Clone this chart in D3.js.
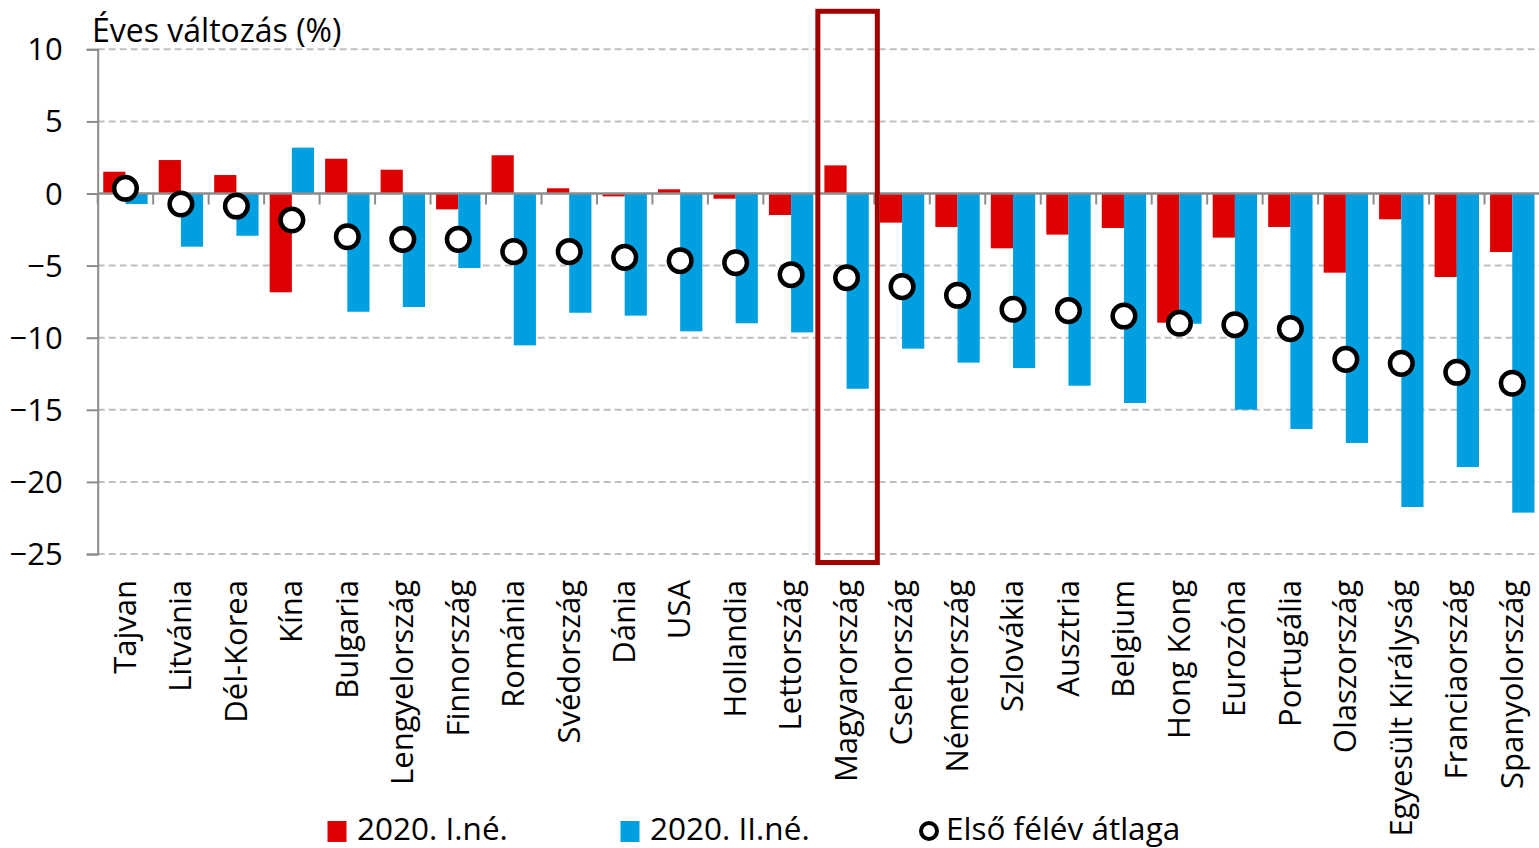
<!DOCTYPE html>
<html>
<head>
<meta charset="utf-8">
<script src="https://cdn.jsdelivr.net/npm/d3@7"></script>
<style>
  html, body { margin: 0; padding: 0; background: #fff; }
  svg { display: block; }
  text { font-family: "Open Sans", sans-serif; fill: #000; }
</style>
</head>
<body>
<svg id="chart" width="1539" height="848"></svg>
<script>
const categories = ["Tajvan","Litvánia","Dél-Korea","Kína","Bulgaria","Lengyelország","Finnország","Románia","Svédország","Dánia","USA","Hollandia","Lettország","Magyarország","Csehország","Németország","Szlovákia","Ausztria","Belgium","Hong Kong","Eurozóna","Portugália","Olaszország","Egyesült Királyság","Franciaország","Spanyolország"];
const q1 = [1.51, 2.32, 1.28, -6.85, 2.41, 1.65, -1.10, 2.65, 0.36, -0.20, 0.29, -0.36, -1.49, 1.95, -2.02, -2.32, -3.80, -2.85, -2.39, -8.96, -3.06, -2.32, -5.49, -1.79, -5.79, -4.06];
const q2 = [-0.73, -3.69, -2.93, 3.18, -8.20, -7.87, -5.17, -10.53, -8.27, -8.47, -9.56, -9.00, -9.63, -13.54, -10.76, -11.73, -12.10, -13.33, -14.53, -9.03, -14.99, -16.33, -17.30, -21.74, -18.97, -22.13];
const avg = [0.36, -0.73, -0.87, -1.84, -3.00, -3.18, -3.18, -4.03, -4.03, -4.43, -4.66, -4.80, -5.63, -5.84, -6.46, -7.06, -8.03, -8.12, -8.50, -9.00, -9.10, -9.37, -11.50, -11.78, -12.40, -13.16];
const yTicks = [10, 5, 0, -5, -10, -15, -20, -25];
const seriesNames = ["2020. I.né.", "2020. II.né.", "Első félév átlaga"];
const highlight = "Magyarország";
const title = "Éves változás (%)";

const colors = { q1: "#dc0000", q2: "#009fe0", box: "#a10000", axis: "#8c8c8c", grid: "#bfbfbf" };

const svg = d3.select("#chart");
const pLeft = 97.7, pRight = 1540, pTop = 49.3, pBottom = 554;

const x = d3.scaleBand().domain(categories).range([pLeft, pRight]).paddingInner(0.2).paddingOuter(0.1);
const xs = d3.scaleBand().domain(["q1","q2"]).range([0, x.bandwidth()]);
const y = d3.scaleLinear().domain([-25, 10]).range([pBottom, pTop]);
const step = x.step();

// gridlines
svg.append("g").selectAll("line").data(yTicks.filter(d => d !== 0)).join("line")
  .attr("x1", pLeft).attr("x2", pRight).attr("y1", d => y(d)).attr("y2", d => y(d))
  .attr("stroke", colors.grid).attr("stroke-width", 2).attr("stroke-dasharray", "7,4");

// bars
const rows = categories.map((c, i) => ({ c, q1: q1[i], q2: q2[i], avg: avg[i] }));
const gb = svg.append("g");
["q1","q2"].forEach(k => {
  gb.selectAll("rect." + k).data(rows).join("rect").attr("class", k)
    .attr("x", d => x(d.c) + xs(k))
    .attr("width", xs.bandwidth())
    .attr("y", d => Math.min(y(0), y(d[k])))
    .attr("height", d => Math.abs(y(d[k]) - y(0)))
    .attr("fill", colors[k]);
});

// y axis
const yAxis = d3.axisLeft(y).tickValues(yTicks).tickSize(11).tickPadding(24);
const gy = svg.append("g").attr("transform", `translate(${pLeft},0)`).call(yAxis);
gy.select(".domain").attr("stroke", colors.axis).attr("stroke-width", 2);
gy.selectAll(".tick line").attr("stroke", colors.axis).attr("stroke-width", 2);
gy.selectAll(".tick text").attr("font-size", 31).attr("font-family", "Open Sans").attr("fill", "#000")
  .attr("dy", "0.34em").attr("x", -35);

// x axis at zero: line and boundary ticks
const gx = svg.append("g");
gx.append("line").attr("x1", pLeft).attr("x2", pRight).attr("y1", y(0)).attr("y2", y(0))
  .attr("stroke", colors.axis).attr("stroke-width", 2.5);
const bounds = d3.range(categories.length + 1).map(i => pLeft + i * step);
gx.selectAll("line.tk").data(bounds).join("line").attr("class", "tk")
  .attr("x1", d => d).attr("x2", d => d).attr("y1", y(0)).attr("y2", y(0) + 11)
  .attr("stroke", colors.axis).attr("stroke-width", 2);

// category labels
svg.append("g").selectAll("text").data(categories).join("text")
  .attr("transform", d => `translate(${x(d) + x.bandwidth() / 2 + 1},${580}) rotate(-90)`)
  .attr("text-anchor", "end").attr("dy", "0.3em")
  .attr("font-size", 31)
  .text(d => d);

// highlight box
const hx = x(highlight) - x.paddingInner() * step / 2;
svg.append("rect")
  .attr("x", hx - 1).attr("width", step + 4)
  .attr("y", y(10) - 38).attr("height", y(-25) - y(10) + 46.5)
  .attr("fill", "none").attr("stroke", colors.box).attr("stroke-width", 5);

// average markers
svg.append("g").selectAll("circle").data(rows).join("circle")
  .attr("cx", d => x(d.c) + x.bandwidth() / 2).attr("cy", d => y(d.avg)).attr("r", 11.3)
  .attr("fill", "#fff").attr("stroke", "#000").attr("stroke-width", 4.5);

// title
svg.append("text").attr("x", 92).attr("y", 42).attr("font-size", 32).text(title);

// legend
const lg = svg.append("g");
const lgItems = [
  { name: seriesNames[0], type: "rect", color: colors.q1, sx: 327.5, tx: 357 },
  { name: seriesNames[1], type: "rect", color: colors.q2, sx: 620.5, tx: 650 },
  { name: seriesNames[2], type: "circle", sx: 929, tx: 946 }
];
lgItems.forEach(it => {
  if (it.type === "rect") {
    lg.append("rect").attr("x", it.sx).attr("y", 821).attr("width", 19).attr("height", 21).attr("fill", it.color);
  } else {
    lg.append("circle").attr("cx", it.sx).attr("cy", 831).attr("r", 8).attr("fill", "#fff").attr("stroke", "#000").attr("stroke-width", 4);
  }
  lg.append("text").attr("x", it.tx).attr("y", 840).attr("font-size", 31.5).text(it.name);
});
</script>
</body>
</html>
